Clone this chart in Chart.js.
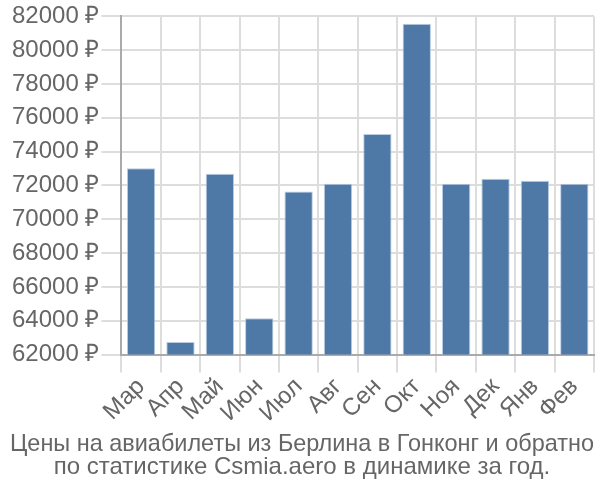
<!DOCTYPE html>
<html>
<head>
<meta charset="utf-8">
<script src="https://cdn.jsdelivr.net/npm/chart.js@4/dist/chart.umd.min.js"></script>
<style>
html,body{margin:0;padding:0;background:#fff;}
#wrap{width:600px;height:500px;}
</style>
</head>
<body>
<div id="wrap"><canvas id="c" width="600" height="500"></canvas></div>
<script>
const categories = ["Мар","Апр","Май","Июн","Июл","Авг","Сен","Окт","Ноя","Дек","Янв","Фев"];
const prices = [73020, 62740, 72700, 64150, 71640, 72100, 75050, 81570, 72100, 72400, 72280, 72100];
const titleLines = ["Цены на авиабилеты из Берлина в Гонконг и обратно","по статистике Csmia.aero в динамике за год."];
const yMin = 62000, yMax = 82000, yStep = 2000;

new Chart(document.getElementById('c'), {
  type: 'bar',
  data: {
    labels: categories,
    datasets: [{
      data: prices,
      backgroundColor: '#4e79a7',
      borderColor: 'rgba(180,200,225,0.9)',
      borderWidth: 1
    }]
  },
  options: {
    responsive: false,
    animation: false,
    layout: {padding: {left: 10, right: 6, top: 1, bottom: 21}},
    plugins: {
      legend: {display: false},
      tooltip: {enabled: false},
      title: {
        display: true,
        position: 'bottom',
        text: titleLines,
        color: '#666',
        font: {family: 'Liberation Sans Narrow, Arial Narrow, Liberation Sans', size: 24, weight: 'normal', lineHeight: 0.95},
        padding: {top: 6, bottom: 0}
      }
    },
    scales: {
      x: {
        grid: {color: '#dddddd', lineWidth: 2, tickLength: 18},
        border: {color: '#aaaaaa', width: 2},
        ticks: {color: '#666', font: {family: 'Liberation Sans, Arial', size: 24}, maxRotation: 45, minRotation: 45, padding: 0, autoSkip: false}
      },
      y: {
        min: yMin, max: yMax,
        grid: {color: '#dddddd', lineWidth: 2, tickLength: 20},
        border: {color: '#aaaaaa', width: 2},
        ticks: {stepSize: yStep, color: '#666', font: {family: 'Liberation Sans, Arial', size: 24}, padding: 2,
          callback: v => v + ' ₽'}
      }
    }
  }
});
</script>
</body>
</html>
